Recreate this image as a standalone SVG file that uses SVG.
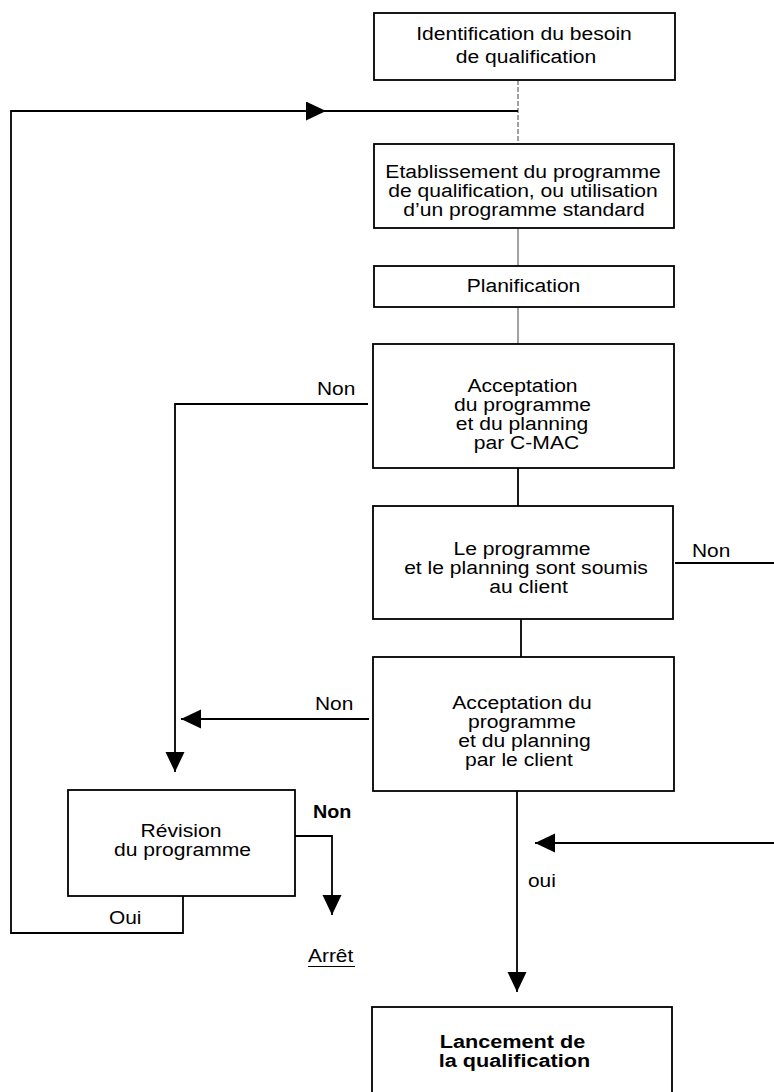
<svg xmlns="http://www.w3.org/2000/svg" width="774" height="1092" viewBox="0 0 774 1092">
<style>
  .box { fill: #fff; stroke: #000; stroke-width: 1.8; }
  .t { font-family: "Liberation Sans", Arial, sans-serif; font-size: 19px; fill: #000; text-anchor: middle; }
  .l { font-family: "Liberation Sans", Arial, sans-serif; font-size: 19px; fill: #000; text-anchor: start; }
  .b { font-weight: bold; }
  .ln { fill: none; stroke: #000; stroke-width: 1.8; }
  .thin { fill: none; stroke: #555; stroke-width: 1.1; }
</style>
<defs>
  <marker id="ah" markerUnits="userSpaceOnUse" markerWidth="21" markerHeight="20" refX="20" refY="9.5" orient="auto" viewBox="0 0 21 20">
    <path d="M0,0 L20,9.5 L0,19 Z" fill="#000"/>
  </marker>
</defs>
<rect width="774" height="1092" fill="#fff"/>

<g id="connectors">
  <path class="thin" d="M518 80 V144" stroke-dasharray="5 2"/>
  <path class="thin" d="M518 228 V266"/>
  <path class="thin" d="M518 307 V344"/>
  <path class="ln" d="M518 468 V506" stroke-width="1.5"/>
  <path class="ln" d="M521 619 V657" stroke-width="1.5"/>
  <path class="ln" d="M517 791 V992" marker-end="url(#ah)"/>
  <path class="ln" d="M183 896 V933 H11 V111 H326" marker-end="url(#ah)"/>
  <path class="ln" d="M326 111 H518" stroke-width="1.3"/>
  <path class="ln" d="M368 404 H175 V772" marker-end="url(#ah)"/>
  <path class="ln" d="M369 719 H181" marker-end="url(#ah)"/>
  <path class="ln" d="M675 563 H774"/>
  <path class="ln" d="M774 843 H535" marker-end="url(#ah)"/>
  <path class="ln" d="M295 836 H332 V915" marker-end="url(#ah)"/>
  <text class="l" transform="translate(317 0) scale(1.1 1)" y="395">Non</text>
  <text class="l" transform="translate(315 0) scale(1.1 1)" y="710">Non</text>
  <text class="l" transform="translate(692 0) scale(1.1 1)" y="557">Non</text>
  <text class="l b" transform="translate(313 0) scale(1.04 1)" y="818">Non</text>
  <text class="l" transform="translate(109 0) scale(1.1 1)" y="924">Oui</text>
  <text class="l" transform="translate(528 0) scale(1.1 1)" y="887">oui</text>
  <text class="l" transform="translate(308 0) scale(1.1 1)" y="962">Arrêt</text>
  <line x1="308" y1="966.5" x2="355" y2="966.5" stroke="#000" stroke-width="1.2"/>
</g>

<g id="n1">
  <rect class="box" x="374" y="13" width="301" height="67"/>
  <text class="t" transform="translate(524 0) scale(1.11 1)" y="40">Identification du besoin</text>
  <text class="t" transform="translate(526 0) scale(1.11 1)" y="63">de qualification</text>
</g>

<g id="n2">
  <rect class="box" x="374" y="144" width="300" height="84"/>
  <text class="t" transform="translate(523 0) scale(1.11 1)" y="178">Etablissement du programme</text>
  <text class="t" transform="translate(523 0) scale(1.11 1)" y="197">de qualification, ou utilisation</text>
  <text class="t" transform="translate(524 0) scale(1.11 1)" y="216">d’un programme standard</text>
</g>

<g id="n3">
  <rect class="box" x="374" y="266" width="300" height="41"/>
  <text class="t" transform="translate(523.5 0) scale(1.11 1)" y="292">Planification</text>
</g>

<g id="n4">
  <rect class="box" x="373" y="344" width="301" height="124"/>
  <text class="t" transform="translate(522.5 0) scale(1.11 1)" y="392">Acceptation</text>
  <text class="t" transform="translate(522.5 0) scale(1.11 1)" y="411">du programme</text>
  <text class="t" transform="translate(522 0) scale(1.11 1)" y="430">et du planning</text>
  <text class="t" transform="translate(526.5 0) scale(1.11 1)" y="449">par C-MAC</text>
</g>

<g id="n5">
  <rect class="box" x="373" y="506" width="300" height="113"/>
  <text class="t" transform="translate(522 0) scale(1.11 1)" y="555">Le programme</text>
  <text class="t" transform="translate(526 0) scale(1.11 1)" y="574">et le planning sont soumis</text>
  <text class="t" transform="translate(528.5 0) scale(1.11 1)" y="593">au client</text>
</g>

<g id="n6">
  <rect class="box" x="373" y="657" width="301" height="134"/>
  <text class="t" transform="translate(522 0) scale(1.11 1)" y="709">Acceptation du</text>
  <text class="t" transform="translate(522 0) scale(1.11 1)" y="728">programme</text>
  <text class="t" transform="translate(524.5 0) scale(1.11 1)" y="747">et du planning</text>
  <text class="t" transform="translate(519 0) scale(1.11 1)" y="766">par le client</text>
</g>

<g id="n7">
  <rect class="box" x="68" y="790" width="227" height="106"/>
  <text class="t" transform="translate(181 0) scale(1.11 1)" y="837">Révision</text>
  <text class="t" transform="translate(182.5 0) scale(1.11 1)" y="856">du programme</text>
</g>

<g id="n8">
  <rect class="box" x="372" y="1007" width="300" height="100"/>
  <text class="t b" transform="translate(512.5 0) scale(1.14 1)" y="1048" font-size="20">Lancement de</text>
  <text class="t b" transform="translate(514.5 0) scale(1.14 1)" y="1067" font-size="20">la qualification</text>
</g>
</svg>
